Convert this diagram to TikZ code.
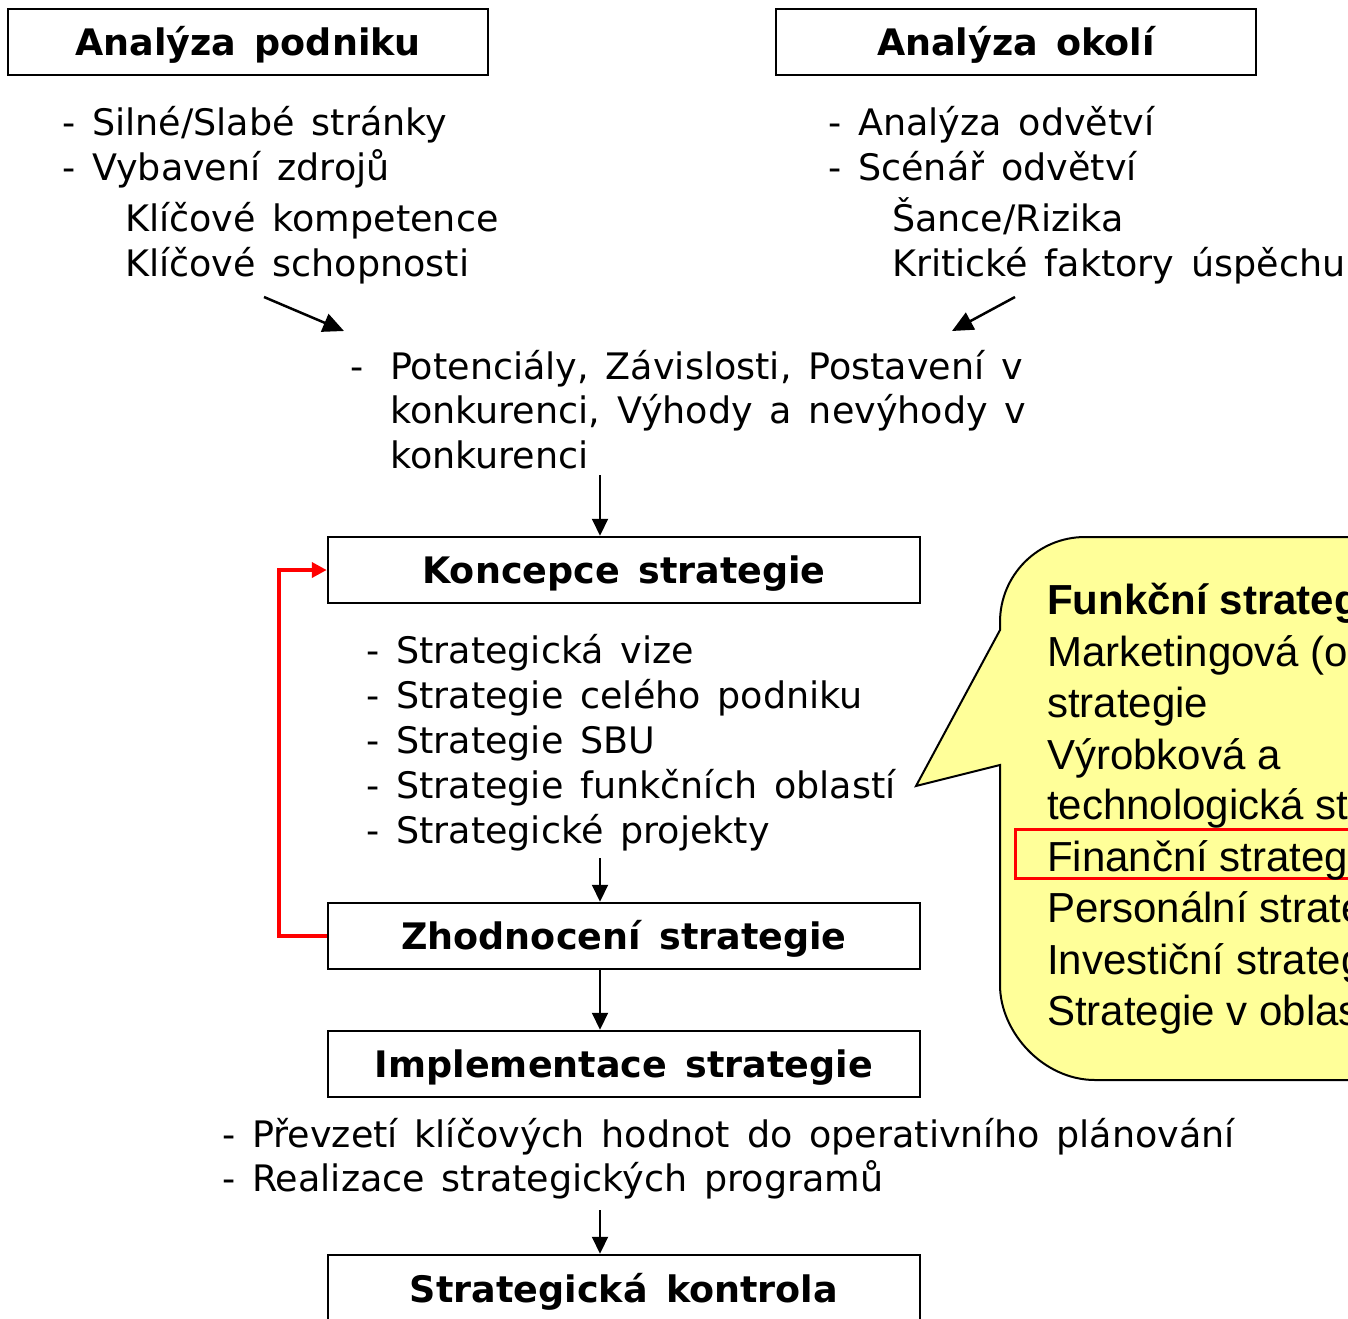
\documentclass[tikz,border=0pt]{standalone}
\usepackage{fontspec}
\setmainfont[WordSpace=1.45]{DejaVu Sans}
\newfontfamily\arialf{Liberation Sans}
\usetikzlibrary{arrows.meta}
\definecolor{callyellow}{RGB}{255,255,153}
\begin{document}
\begin{tikzpicture}[x=1pt,y=-1pt,
  stagebox/.style={draw, line width=2.5pt, minimum height=66pt, inner sep=0pt,
    text height=29pt, text depth=2pt,
    font=\bfseries\fontsize{36.5pt}{44pt}\selectfont},
  wide/.style={minimum width=480pt},
  mid/.style={minimum width=592pt},
  item/.style={anchor=base west, inner sep=0pt, font=\fontsize{36.5pt}{45pt}\selectfont},
  citem/.style={anchor=base west, inner sep=0pt, font=\arialf\fontsize{42pt}{51pt}\selectfont},
  arr/.style={line width=2pt, -{Triangle[length=17pt,width=16pt]}},
  darr/.style={line width=2.5pt, -{Triangle[length=21pt,width=19pt]}},
  redarr/.style={draw=red, line width=4.5pt, -{Triangle[length=15pt,width=15pt]}}]
\clip (0,0) rectangle (1348,1318);
\fill[white] (0,0) rectangle (1348,1318);

% top boxes
\node[stagebox, wide] (ap) at (248,42) {Analýza podniku};
\node[stagebox, wide] (ao) at (1016,42) {Analýza okolí};

% left list
\node[item] (l1) at (62,135) {- Silné/Slabé stránky};
\node[item] (l2) at (62,180) {- Vybavení zdrojů};
\node[item] (l3) at (125,231) {Klíčové kompetence};
\node[item] (l4) at (125,276) {Klíčové schopnosti};

% right list
\node[item] (r1) at (828,135) {- Analýza odvětví};
\node[item] (r2) at (828,180) {- Scénář odvětví};
\node[item] (r3) at (892,231) {Šance/Rizika};
\node[item] (r4) at (892,276) {Kritické faktory úspěchu};

% diagonal arrows
\coordinate (dl1) at (264,297);
\coordinate (dl2) at (344,331);
\coordinate (dr1) at (1015,297);
\coordinate (dr2) at (952,331);
\draw[darr] (dl1) -- (dl2);
\draw[darr] (dr1) -- (dr2);

% middle text
\node[item] (m0) at (350,379) {-};
\node[item] (m1) at (390,379) {Potenciály, Závislosti, Postavení v};
\node[item] (m2) at (390,423) {konkurenci, Výhody a nevýhody v};
\node[item] (m3) at (390,468) {konkurenci};

% strategy boxes
\node[stagebox, mid] (kon) at (624,570) {Koncepce strategie};
\node[stagebox, mid] (zh) at (624,936) {Zhodnocení strategie};
\node[stagebox, mid] (imp) at (624,1064) {Implementace strategie};
\node[stagebox, mid, minimum height=68pt] (kt) at (624,1289) {Strategická kontrola};

% koncepce list
\node[item] (k1) at (366,663) {- Strategická vize};
\node[item] (k2) at (366,708) {- Strategie celého podniku};
\node[item] (k3) at (366,753) {- Strategie SBU};
\node[item] (k4) at (366,798) {- Strategie funkčních oblastí};
\node[item] (k5) at (366,843) {- Strategické projekty};

% implementation list
\node[item] (i1) at (222,1147) {- Převzetí klíčových hodnot do operativního plánování};
\node[item] (i2) at (222,1191) {- Realizace strategických programů};

% vertical arrows
\coordinate (v1) at (600,475);
\coordinate (v2) at (600,858);
\coordinate (v3) at (600,1210);
\draw[arr] (v1) -- (v1 |- kon.north);
\draw[arr] (v2) -- (v2 |- zh.north);
\draw[arr] (zh.south -| v2) -- (imp.north -| v2);
\draw[arr] (v3) -- (v3 |- kt.north);

% red feedback
\draw[redarr] (zh.west) -- ++(-48,0) |- (kon.west);

% callout
\path[draw=black, line width=2pt, fill=callyellow]
  (916,786) -- (1000,630) -- (1000,622)
  .. controls (1000,575) and (1038,537) .. (1085,537)
  -- (1400,537) -- (1400,1080) -- (1095,1080)
  .. controls (1043,1080) and (1000,1032) .. (1000,985)
  -- (1000,765) -- cycle;
\draw[red, line width=3pt] (1015,829) rectangle (1400,878);
\node[citem, font=\arialf\bfseries\fontsize{42pt}{51pt}\selectfont] (c0) at (1047,614) {Funkční strategie};
\node[citem] (c1) at (1047,666) {Marketingová (obchodní)};
\node[citem] (c2) at (1047,717) {strategie};
\node[citem] (c3) at (1047,769) {Výrobková a};
\node[citem] (c4) at (1047,819) {technologická strategie};
\node[citem] (c5) at (1047,871) {Finanční strategie};
\node[citem] (c6) at (1047,922) {Personální strategie};
\node[citem] (c7) at (1047,974) {Investiční strategie};
\node[citem] (c8) at (1047,1025) {Strategie v oblasti};
\end{tikzpicture}
\end{document}
